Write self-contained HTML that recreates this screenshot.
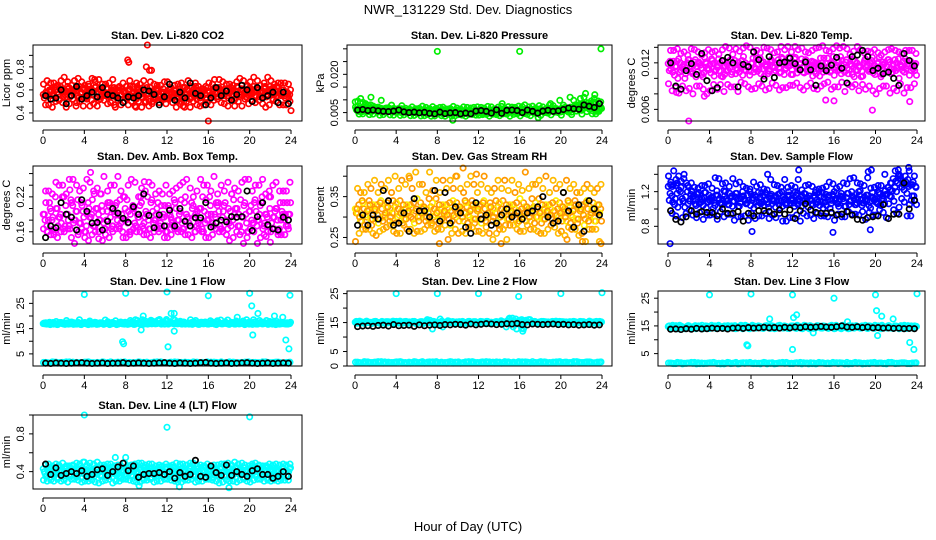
<!DOCTYPE html>
<html><head><meta charset="utf-8"><style>
html,body{margin:0;padding:0;background:#fff;}
svg{display:block;font-family:"Liberation Sans",sans-serif;}
</style></head><body>
<svg id="chart" width="936" height="540" viewBox="0 0 936 540">
<rect width="936" height="540" fill="#fff"/>
<text x="468" y="14" text-anchor="middle" font-size="13">NWR_131229  Std. Dev. Diagnostics</text>
<text x="468" y="531" text-anchor="middle" font-size="13">Hour of Day (UTC)</text>
</svg>
<script>
const xTicks = [0,4,8,12,16,20,24];

const co2A = [0.53,0.57,0.60,0.55,0.62,0.58,0.52,0.60,0.56,0.63,0.54,0.59,0.61,0.55,0.57,0.62,0.53,0.58,0.60,0.56,0.63,0.51,0.59,0.57,0.61,0.55,0.58,0.62,0.54,0.60,0.56,0.59,0.52,0.61,0.57,0.55,0.63,0.58,0.53,0.60,0.56,0.62,0.50,0.57,0.59,0.54,0.61,0.56,0.52,0.58,0.55,0.60,0.53,0.57,0.50,0.56,0.59,0.54,0.61,0.52,0.57,0.55,0.60,0.53,0.58,0.56,0.62,0.54,0.59,0.57,0.61,0.55,0.58,0.60,0.53,0.62,0.56,0.59,0.54,0.61,0.57,0.63,0.55,0.60,0.58,0.62,0.54,0.59,0.61,0.56,0.63,0.57,0.60,0.55,0.58,0.56];
const co2B = [0.47,0.66,0.50,0.68,0.45,0.64,0.49,0.67,0.52,0.70,0.46,0.65,0.48,0.69,0.51,0.66,0.47,0.63,0.50,0.68,0.46,0.65,0.49,0.67,0.53,0.64,0.48,0.62,0.45,0.66,0.50,0.63,0.47,0.61,0.49,0.65,0.52,0.67,0.46,0.64,0.50,0.68,0.48,0.71,0.51,0.66,0.47,0.65];
const co2K = [0.55,0.52,0.53,0.60,0.48,0.55,0.63,0.52,0.55,0.58,0.54,0.62,0.56,0.55,0.53,0.49,0.54,0.53,0.55,0.60,0.59,0.56,0.47,0.54,0.65,0.51,0.58,0.53,0.66,0.57,0.55,0.47,0.53,0.62,0.55,0.59,0.51,0.56,0.64,0.60,0.50,0.62,0.53,0.55,0.58,0.49,0.58,0.48];
const co2OutX = [8.2,8.3,10.1,10.0,10.3,10.5,16.6,16.0,24.0,5.0,22.3,7.0,9.0,13.2,3.2,13.7,15.2];
const co2OutY = [0.86,0.84,0.99,0.80,0.77,0.77,0.69,0.33,0.42,0.69,0.62,0.45,0.45,0.61,0.46,0.45,0.46];

const presA = [0.0062,0.0055,0.0066,0.0058,0.0063,0.0054,0.0067,0.0059,0.0061,0.0056,0.0064,0.0052,0.0060,0.0057,0.0065,0.0053,0.0059,0.0062,0.0055,0.0058,0.0051,0.0060,0.0056,0.0054,0.0058,0.0050,0.0057,0.0053,0.0055,0.0049,0.0056,0.0052,0.0048,0.0055,0.0050,0.0053,0.0047,0.0054,0.0049,0.0052,0.0046,0.0053,0.0050,0.0048,0.0055,0.0047,0.0052,0.0049,0.0054,0.0051,0.0057,0.0053,0.0058,0.0050,0.0056,0.0060,0.0054,0.0058,0.0061,0.0055,0.0059,0.0062,0.0056,0.0060,0.0063,0.0055,0.0058,0.0061,0.0054,0.0059,0.0057,0.0062,0.0056,0.0060,0.0064,0.0058,0.0061,0.0065,0.0059,0.0063,0.0066,0.0060,0.0064,0.0068,0.0062,0.0067,0.0071,0.0069,0.0075,0.0080,0.0078,0.0085,0.0090,0.0088,0.0095,0.0092];
const presB = [0.0072,0.0045,0.0070,0.0044,0.0068,0.0042,0.0069,0.0040,0.0066,0.0041,0.0064,0.0039,0.0067,0.0038,0.0065,0.0037,0.0070,0.0036,0.0066,0.0038,0.0064,0.0036,0.0068,0.0040,0.0070,0.0043,0.0072,0.0042,0.0074,0.0044,0.0071,0.0045,0.0073,0.0043,0.0075,0.0046,0.0072,0.0048,0.0077,0.0050,0.0079,0.0052,0.0098,0.0070,0.0110,0.0080,0.0105,0.0072];
const presK = [0.0060,0.0062,0.0058,0.0060,0.0057,0.0055,0.0054,0.0056,0.0060,0.0053,0.0050,0.0052,0.0049,0.0051,0.0047,0.0045,0.0052,0.0046,0.0049,0.0050,0.0045,0.0048,0.0045,0.0056,0.0058,0.0055,0.0048,0.0061,0.0047,0.0059,0.0060,0.0058,0.0050,0.0060,0.0055,0.0048,0.0056,0.0059,0.0055,0.0057,0.0062,0.0068,0.0065,0.0063,0.0080,0.0075,0.0070,0.0085];
const presOutX = [8.0,16.0,23.9,22.4,14.3,16.5,19.0,23.3,9.5,17.8];
const presOutY = [0.029,0.029,0.030,0.0125,0.0085,0.008,0.0085,0.012,0.002,0.003];

const tempA = [0.0110,0.0118,0.0104,0.0122,0.0108,0.0115,0.0100,0.0120,0.0112,0.0106,0.0124,0.0109,0.0117,0.0102,0.0121,0.0113,0.0107,0.0119,0.0111,0.0125,0.0103,0.0116,0.0110,0.0122,0.0105,0.0118,0.0113,0.0108,0.0123,0.0111,0.0117,0.0104,0.0120,0.0114,0.0109,0.0126,0.0112,0.0118,0.0106,0.0121,0.0115,0.0110,0.0124,0.0108,0.0119,0.0113,0.0127,0.0105,0.0120,0.0116,0.0111,0.0125,0.0107,0.0118,0.0114,0.0122,0.0109,0.0117,0.0103,0.0120,0.0112,0.0126,0.0108,0.0119,0.0115,0.0110,0.0128,0.0113,0.0121,0.0106,0.0118,0.0124,0.0111,0.0116,0.0102,0.0120,0.0114,0.0109,0.0123,0.0117,0.0112,0.0127,0.0105,0.0119,0.0115,0.0121,0.0108,0.0124,0.0113,0.0118,0.0110,0.0125,0.0116,0.0122,0.0112,0.0119];
const tempB = [0.0136,0.0088,0.0132,0.0084,0.0138,0.0090,0.0130,0.0080,0.0134,0.0086,0.0137,0.0092,0.0131,0.0083,0.0139,0.0089,0.0135,0.0093,0.0140,0.0087,0.0133,0.0085,0.0137,0.0091,0.0141,0.0088,0.0134,0.0094,0.0139,0.0090,0.0136,0.0086,0.0142,0.0095,0.0138,0.0089,0.0141,0.0092,0.0135,0.0084,0.0133,0.0090,0.0137,0.0087,0.0134,0.0081,0.0136,0.0093];
const tempK = [0.0120,0.0090,0.0086,0.0110,0.0119,0.0105,0.0132,0.0097,0.0084,0.0088,0.0123,0.0127,0.0120,0.0089,0.0118,0.0115,0.0134,0.0124,0.0099,0.0128,0.0101,0.0120,0.0121,0.0126,0.0119,0.0111,0.0121,0.0111,0.0091,0.0116,0.0110,0.0117,0.0127,0.0113,0.0094,0.0128,0.0130,0.0136,0.0128,0.0110,0.0113,0.0106,0.0108,0.0100,0.0091,0.0132,0.0123,0.0116];
const tempOutX = [2.0,19.7,15.2,16.0,23.3,3.5,0.8];
const tempOutY = [0.0045,0.0059,0.0072,0.0071,0.0070,0.0077,0.0082];

const ambA = [0.19,0.17,0.21,0.18,0.16,0.20,0.185,0.22,0.17,0.19,0.165,0.205,0.18,0.215,0.175,0.195,0.16,0.21,0.185,0.17,0.20,0.19,0.225,0.175,0.18,0.205,0.165,0.195,0.21,0.17,0.19,0.18,0.215,0.16,0.20,0.175,0.19,0.205,0.17,0.185,0.22,0.165,0.195,0.18,0.21,0.175,0.19,0.16,0.205,0.185,0.17,0.20,0.18,0.215,0.165,0.19,0.175,0.21,0.185,0.17,0.20,0.16,0.195,0.18,0.22,0.175,0.19,0.205,0.17,0.185,0.21,0.165,0.195,0.18,0.20,0.17,0.215,0.185,0.19,0.16,0.205,0.175,0.195,0.18,0.21,0.17,0.19,0.22,0.175,0.185,0.20,0.165,0.195,0.18,0.21,0.19];
const ambB = [0.23,0.155,0.245,0.16,0.225,0.15,0.24,0.165,0.25,0.155,0.235,0.145,0.23,0.16,0.255,0.15,0.24,0.165,0.22,0.155,0.245,0.16,0.23,0.15,0.225,0.165,0.24,0.155,0.235,0.16,0.25,0.15,0.23,0.165,0.24,0.155,0.225,0.16,0.245,0.15,0.23,0.14,0.25,0.16,0.24,0.155,0.23,0.165];
const ambK = [0.15,0.17,0.167,0.21,0.19,0.185,0.163,0.215,0.195,0.175,0.176,0.163,0.178,0.20,0.192,0.183,0.176,0.203,0.19,0.225,0.188,0.167,0.189,0.17,0.197,0.17,0.20,0.178,0.17,0.184,0.184,0.21,0.168,0.175,0.18,0.177,0.186,0.185,0.186,0.23,0.162,0.186,0.21,0.172,0.165,0.163,0.185,0.18];
const ambOutX = [4.6,9.8,5.4,22.0,21.6,2.6];
const ambOutY = [0.262,0.246,0.148,0.142,0.152,0.232];

const rhA = [0.31,0.33,0.29,0.32,0.30,0.34,0.28,0.315,0.33,0.295,0.32,0.305,0.335,0.29,0.31,0.325,0.30,0.34,0.285,0.32,0.31,0.33,0.295,0.315,0.30,0.335,0.32,0.29,0.31,0.325,0.30,0.345,0.285,0.32,0.31,0.33,0.295,0.315,0.305,0.335,0.29,0.32,0.31,0.325,0.30,0.34,0.285,0.315,0.33,0.295,0.32,0.305,0.335,0.29,0.31,0.325,0.30,0.34,0.28,0.32,0.31,0.33,0.295,0.315,0.305,0.335,0.29,0.32,0.31,0.325,0.30,0.345,0.285,0.32,0.31,0.33,0.295,0.315,0.305,0.335,0.29,0.32,0.31,0.325,0.30,0.34,0.285,0.315,0.33,0.295,0.32,0.305,0.335,0.29,0.31,0.32];
const rhB = [0.37,0.27,0.38,0.26,0.36,0.27,0.39,0.265,0.37,0.28,0.40,0.26,0.38,0.27,0.41,0.265,0.36,0.28,0.39,0.27,0.37,0.26,0.40,0.265,0.38,0.275,0.36,0.26,0.37,0.245,0.39,0.27,0.365,0.28,0.38,0.265,0.37,0.27,0.39,0.26,0.36,0.275,0.38,0.255,0.37,0.27,0.36,0.24];
const rhK = [0.28,0.305,0.28,0.305,0.295,0.365,0.34,0.28,0.285,0.31,0.265,0.345,0.315,0.315,0.30,0.365,0.29,0.36,0.285,0.325,0.31,0.275,0.26,0.335,0.295,0.305,0.28,0.285,0.305,0.32,0.30,0.31,0.295,0.31,0.315,0.325,0.35,0.30,0.285,0.29,0.36,0.315,0.275,0.33,0.265,0.34,0.32,0.305];
const rhOutX = [10.5,8.2,14.2,20.6,22.1,23.9,11.8,9.8,5.3];
const rhOutY = [0.42,0.235,0.235,0.245,0.24,0.235,0.405,0.40,0.395];

const flowA = [1.10,1.15,1.05,1.18,1.08,1.12,1.02,1.20,1.09,1.14,1.06,1.17,1.11,1.04,1.19,1.08,1.13,1.01,1.16,1.10,1.07,1.21,1.12,1.05,1.15,1.09,1.18,1.03,1.14,1.11,1.07,1.20,1.10,1.16,1.04,1.13,1.08,1.19,1.06,1.15,1.11,1.02,1.17,1.09,1.14,1.05,1.20,1.10,1.07,1.16,1.12,1.03,1.18,1.09,1.15,1.06,1.13,1.11,1.04,1.19,1.08,1.14,1.01,1.17,1.10,1.06,1.15,1.12,1.03,1.18,1.09,1.13,1.05,1.20,1.11,1.07,1.16,1.04,1.14,1.10,1.08,1.19,1.12,1.06,1.17,1.15,1.21,1.25,1.30,1.35,1.32,1.38,1.34,1.28,1.31,1.26];
const flowB = [1.28,0.92,1.25,0.95,1.30,0.90,1.27,0.93,1.24,0.88,1.29,0.94,1.35,0.91,1.26,0.87,1.31,0.92,1.23,0.89,1.28,0.95,1.34,0.90,1.25,0.86,1.27,0.93,1.22,0.92,1.26,0.95,1.24,0.91,1.29,0.94,1.30,0.97,1.36,0.93,1.27,0.96,1.25,0.99,1.40,1.22,1.44,1.38];
const flowK = [0.98,0.88,0.85,0.91,0.98,0.94,0.97,0.96,0.96,0.92,1.00,0.95,0.95,0.97,0.86,0.95,0.92,0.98,0.98,0.97,0.94,0.99,0.94,0.99,0.89,0.98,1.06,0.99,0.96,0.95,0.95,0.96,0.93,0.94,0.97,0.93,0.88,0.87,0.90,0.91,0.92,1.05,0.89,0.94,0.94,1.30,1.00,1.10];
const flowOutX = [0.2,8.1,15.9,19.5,12.6,9.6,19.3,19.6,22.2,23.2,0.4,0.8];
const flowOutY = [0.60,0.74,0.73,0.76,1.45,1.40,1.43,1.45,1.45,1.48,1.26,1.27];

const l1High = [17.2,16.8,17.5,16.9,17.1,16.6,17.4,17.0,16.7,17.3,16.9,17.2,16.8,17.5,16.7,17.0,17.3,16.6,17.1,16.9,17.4,16.8,17.2,16.7,17.0,17.3,16.9,17.1,16.6,17.4,17.0,16.8,17.2,16.9,17.5,16.7,18.2,17.0,18.5,17.2,16.8,17.6,17.9,16.9,18.3,17.1,17.4,18.0,16.8,17.5,18.6,17.0,17.3,16.9,17.6,17.1,16.8,17.4,17.0,17.2,16.7,17.5,17.0,16.9,17.3,17.6,16.8,18.1,17.2,16.9,17.7,18.4,17.0,17.3,16.8,17.5,17.1,18.0,16.9,17.4,17.2,18.5,16.8,17.3,17.6,17.0,18.2,16.9,17.4,17.1,17.8,16.8,17.2,16.9,17.3,17.0];
const l1Low = [1.6,1.4,1.7,1.5,1.8,1.3,1.6,1.5,1.7,1.4,1.6,1.8,1.5,1.3,1.7,1.6,1.4,1.5,1.8,1.6,1.3,1.7,1.5,1.4,1.6,1.8,1.5,1.7,1.3,1.6,1.4,1.5,1.7,1.6,1.8,1.4,1.5,1.3,1.6,1.7,1.5,1.4,1.8,1.6,1.5,1.7,1.4,1.6];
const l1K = [1.3,1.2,1.4,1.3,1.2,1.3,1.4,1.5,1.3,1.2,1.3,1.4,1.2,1.3,1.3,1.5,1.2,1.3,1.4,1.3,1.2,1.3,1.4,1.5,1.3,1.2,1.4,1.3,1.2,1.3,1.5,1.6,1.3,1.2,1.3,1.4,1.2,1.3,1.4,1.5,1.3,1.2,1.3,1.4,1.2,1.3,1.4,1.3];
const l1OutX = [4.0,8.0,12.0,16.0,20.0,23.9,20.2,7.7,7.8,12.1,20.3,23.5,23.8,9.7,12.4,12.7,9.5,12.7,22.4,23.2,20.8,18.8];
const l1OutY = [28.5,29.0,29.5,28.0,29.0,28.2,24.0,9.8,9.0,7.8,12.5,10.5,7.0,20.0,21.0,21.0,14.5,14.0,20.0,19.5,21.0,19.5];

const l2High = [15.4,14.9,15.2,14.8,15.5,15.0,14.7,15.3,15.1,14.8,15.4,15.0,14.9,15.2,14.7,15.3,15.0,15.5,14.8,15.1,15.2,14.9,15.4,14.8,15.0,15.3,14.7,15.1,15.2,14.9,15.4,15.0,14.8,15.3,15.1,14.9,15.5,15.0,14.8,15.2,15.3,14.9,15.1,14.7,15.4,15.0,15.2,14.8,15.1,15.3,14.9,15.4,15.0,14.8,15.2,15.1,14.9,15.3,15.0,15.6,14.8,13.5,16.2,15.0,14.6,12.8,15.8,16.0,14.9,15.3,15.1,14.8,15.4,15.0,15.2,14.9,15.3,15.1,14.8,15.4,15.0,15.2,14.9,15.3,15.1,14.8,15.0,15.4,15.2,14.9,15.1,15.3,15.0,14.8,15.2,15.1];
const l2Low = [1.3,1.1,1.4,1.2,1.5,1.0,1.3,1.2,1.4,1.1,1.3,1.5,1.2,1.0,1.4,1.3,1.1,1.2,1.5,1.3,1.0,1.4,1.2,1.1,1.3,1.5,1.2,1.4,1.0,1.3,1.1,1.2,1.4,1.3,1.5,1.1,1.2,1.0,1.3,1.4,1.2,1.1,1.5,1.3,1.2,1.4,1.1,1.3];
const l2K = [13.6,13.8,13.9,13.7,14.0,14.1,13.8,14.3,13.9,14.0,14.1,13.7,14.2,13.9,14.1,14.2,14.0,14.3,14.2,14.4,14.3,14.1,14.5,14.2,14.4,14.6,14.5,14.3,14.4,14.6,14.5,14.7,14.3,14.2,14.5,14.4,14.3,14.4,14.5,14.3,14.4,14.2,14.3,14.1,14.2,14.3,14.1,14.2];
const l2OutX = [4.0,8.0,12.0,15.9,20.0,24.0,15.0,15.3,16.3,16.2,17.0];
const l2OutY = [25.0,25.0,25.0,24.0,25.0,25.3,16.5,16.5,12.0,13.0,16.0];

const l3High = [15.0,14.3,14.8,14.1,15.2,14.5,14.0,14.9,14.6,14.2,15.1,14.4,14.7,14.0,15.0,14.5,14.3,14.9,14.1,15.2,14.6,14.2,14.8,14.4,15.0,14.1,14.7,14.5,15.1,14.3,14.9,14.0,15.2,14.6,14.4,14.8,14.2,15.0,14.5,14.1,14.9,14.3,15.1,14.6,14.2,14.8,14.4,15.0,14.5,14.1,14.9,14.3,15.2,14.6,14.0,14.8,14.4,15.1,14.5,14.2,14.9,14.3,15.0,14.6,14.1,14.8,14.4,15.2,14.5,14.0,14.9,14.3,15.1,14.6,14.2,14.8,14.4,15.0,14.5,14.1,14.9,14.3,15.2,14.6,14.2,14.8,14.4,15.0,14.5,14.1,14.9,14.3,15.1,14.6,14.2,14.8];
const l3Low = [1.6,1.4,1.7,1.5,1.8,1.3,1.6,1.5,1.7,1.4,1.6,1.8,1.5,1.3,1.7,1.6,1.4,1.5,1.8,1.6,1.3,1.7,1.5,1.4,1.6,1.8,1.5,1.7,1.3,1.6,1.4,1.5,1.7,1.6,1.8,1.4,1.5,1.3,1.6,1.7,1.5,1.4,1.8,1.6,1.5,1.7,1.4,1.6];
const l3K = [13.8,13.9,13.7,14.0,13.8,14.1,13.9,14.0,14.2,14.0,14.1,13.9,14.2,14.3,14.1,14.4,14.2,14.3,14.5,14.3,14.4,14.2,14.5,14.3,14.6,14.4,14.7,14.5,14.6,14.8,14.6,14.5,14.7,15.0,14.6,14.5,14.7,14.4,14.6,14.3,14.4,14.2,14.3,14.1,14.2,14.0,14.1,14.0];
const l3OutX = [4.0,8.0,12.0,16.0,20.0,24.0,7.6,7.7,12.0,12.1,12.4,20.1,20.2,20.6,23.3,23.7,9.8,14.0,17.3,21.7];
const l3OutY = [26.2,26.5,26.2,25.0,26.2,26.6,8.2,7.8,6.5,18.0,19.0,20.5,11.5,18.5,9.0,6.5,17.5,12.5,16.5,17.5];

const l4A = [0.40,0.36,0.44,0.38,0.42,0.34,0.41,0.37,0.45,0.39,0.35,0.43,0.40,0.36,0.46,0.38,0.42,0.33,0.41,0.37,0.44,0.39,0.35,0.43,0.40,0.36,0.45,0.38,0.42,0.34,0.41,0.37,0.44,0.39,0.35,0.43,0.40,0.36,0.46,0.38,0.42,0.33,0.41,0.37,0.44,0.39,0.35,0.43,0.40,0.36,0.45,0.38,0.42,0.34,0.41,0.37,0.44,0.39,0.35,0.43,0.40,0.36,0.46,0.38,0.42,0.33,0.41,0.37,0.44,0.39,0.35,0.43,0.40,0.36,0.45,0.38,0.42,0.34,0.41,0.37,0.44,0.39,0.35,0.43,0.40,0.36,0.46,0.38,0.42,0.33,0.41,0.37,0.44,0.39,0.35,0.43];
const l4B = [0.47,0.31,0.48,0.30,0.46,0.32,0.49,0.29,0.47,0.31,0.50,0.30,0.48,0.28,0.47,0.32,0.46,0.30,0.49,0.31,0.48,0.29,0.47,0.32,0.46,0.30,0.48,0.31,0.49,0.29,0.47,0.32,0.46,0.30,0.48,0.31,0.47,0.29,0.49,0.30,0.48,0.32,0.46,0.31,0.47,0.30,0.48,0.31];
const l4K = [0.48,0.37,0.44,0.36,0.38,0.40,0.38,0.41,0.35,0.37,0.42,0.43,0.36,0.40,0.45,0.49,0.41,0.46,0.34,0.37,0.38,0.38,0.39,0.37,0.40,0.33,0.39,0.35,0.37,0.52,0.35,0.34,0.46,0.39,0.36,0.47,0.36,0.40,0.37,0.35,0.41,0.43,0.37,0.37,0.33,0.35,0.40,0.35];
const l4OutX = [4.0,12.0,20.0,8.0,7.0,4.0,18.0,9.3,13.2];
const l4OutY = [1.0,0.87,0.98,0.55,0.55,0.50,0.23,0.25,0.24];

const NS = 'http://www.w3.org/2000/svg';
const svg = document.getElementById('chart');
const cols = [{l:33,r:302,x0:43,x1:291},{l:347,r:612,x0:355,x1:602},{l:658,r:925,x0:668,x1:917}];
const rows = [{t:45,b:121},{t:166,b:244},{t:291,b:366},{t:415,b:489}];

function mk(tag, attrs, parent) {
  const e = document.createElementNS(NS, tag);
  for (const k in attrs) e.setAttribute(k, attrs[k]);
  (parent || svg).appendChild(e);
  return e;
}

function panel(cfg) {
  const c = cols[cfg.col], r = rows[cfg.row];
  const g = mk('g', {});
  
  
  const sx = v => c.x0 + (v / 24) * (c.x1 - c.x0);
  const sy = v => r.b - (v - cfg.ymin) / (cfg.ymax - cfg.ymin) * (r.b - r.t);
  const title = mk('text', {x:(c.l+c.r)/2, y:r.t-6, 'text-anchor':'middle', 'font-size':11, 'font-weight':'bold'}, g);
  title.textContent = cfg.title;
  
  
  const marks = mk('g', {fill:'none', 'stroke-width':1.7}, g);
  
  
  function pts(vals, color, phase) {
    vals.forEach((v, i) => {
      const x = (i + phase) * 24 / vals.length;
      const ci = mk('circle', {cx:sx(x), cy:sy(v), r:2.7, stroke:color}, marks);
      
      
    });
  }
  function xy(xs, ys, color) {
    xs.forEach((x, i) => {
      const ci = mk('circle', {cx:sx(x), cy:sy(ys[i]), r:2.7, stroke:color}, marks);
      
      
    });
  }
  cfg.series.forEach(s => {
    pts(s[0], s[1], 0.5);
    pts(s[0].slice().reverse(), s[2] || s[1], 0.1);
    pts(s[0].slice(3).concat(s[0].slice(0,3)), s[1], 0.8);
  });
  xy(cfg.ox, cfg.oy, cfg.ocolor);
  pts(cfg.black, '#000', 0.5);
  const box = mk('rect', {x:c.l, y:r.t, width:c.r-c.l, height:r.b-r.t, fill:'none', stroke:'#000', 'stroke-width':1}, g);
  
  
  const xa = mk('g', {stroke:'#000', 'stroke-width':1}, g);
  
  
  const ay = r.b + 9;
  mk('line', {x1:sx(0), x2:sx(24), y1:ay, y2:ay}, xa);
  xTicks.forEach(t => {
    mk('line', {x1:sx(t), x2:sx(t), y1:ay, y2:ay+4}, xa);
    const tl = mk('text', {x:sx(t), y:ay+14, 'text-anchor':'middle', 'font-size':11, stroke:'none', fill:'#000'}, xa);
    tl.textContent = t;
    
    
  });
  const ya = mk('g', {stroke:'#000', 'stroke-width':1}, g);
  
  
  cfg.yticks.forEach(t => {
    mk('line', {x1:c.l-4, x2:c.l, y1:sy(t), y2:sy(t)}, ya);
  });
  cfg.ylabels.forEach(t => {
    const yy = sy(parseFloat(t));
    const tl = mk('text', {x:c.l-9, y:yy, transform:`rotate(-90 ${c.l-9} ${yy})`, 'text-anchor':'middle', 'font-size':11, stroke:'none', fill:'#000'}, ya);
    tl.textContent = t;
    
    
  });
  const yt = mk('text', {x:c.l-23, y:(r.t+r.b)/2, transform:`rotate(-90 ${c.l-23} ${(r.t+r.b)/2})`, 'text-anchor':'middle', 'font-size':11}, g);
  yt.textContent = cfg.ytitle;
  
  
}

const RED='#ff0000', GRN='#00ee00', MAG='#ff00ff', BLU='#0000ff', CYN='#00ffff';
panel({name:'co2', col:0,row:0,title:'Stan. Dev. Li-820 CO2',ytitle:'Licor ppm',ymin:0.33,ymax:0.99,yticks:[0.4,0.5,0.6,0.7,0.8,0.9],ylabels:['0.4','0.6','0.8'],series:[[co2A,RED],[co2B,RED]],ox:co2OutX,oy:co2OutY,ocolor:RED,black:co2K});
panel({name:'pressure', col:1,row:0,title:'Stan. Dev. Li-820 Pressure',ytitle:'kPa',ymin:0.0017,ymax:0.0315,yticks:[0.005,0.01,0.015,0.02,0.025,0.03],ylabels:['0.005','0.020'],series:[[presA,GRN],[presB,GRN]],ox:presOutX,oy:presOutY,ocolor:GRN,black:presK});
panel({name:'li820-temp', col:2,row:0,title:'Stan. Dev. Li-820 Temp.',ytitle:'degrees C',ymin:0.0045,ymax:0.0143,yticks:[0.006,0.008,0.010,0.012,0.014],ylabels:['0.006','0.012'],series:[[tempA,MAG],[tempB,MAG]],ox:tempOutX,oy:tempOutY,ocolor:MAG,black:tempK});
panel({name:'amb-box-temp', col:0,row:1,title:'Stan. Dev. Amb. Box Temp.',ytitle:'degrees C',ymin:0.139,ymax:0.273,yticks:[0.16,0.18,0.20,0.22,0.24,0.26],ylabels:['0.16','0.22'],series:[[ambA,MAG],[ambB,MAG]],ox:ambOutX,oy:ambOutY,ocolor:MAG,black:ambK});
panel({name:'gas-rh', col:1,row:1,title:'Stan. Dev. Gas Stream RH',ytitle:'percent',ymin:0.234,ymax:0.425,yticks:[0.25,0.30,0.35,0.40],ylabels:['0.25','0.35'],series:[[rhA,'#ff9900','#ffee00'],[rhB,'#ffbb00','#ff9900']],ox:rhOutX,oy:rhOutY,ocolor:'#ff9900',black:rhK});
panel({name:'sample-flow', col:2,row:1,title:'Stan. Dev. Sample Flow',ytitle:'ml/min',ymin:0.596,ymax:1.496,yticks:[0.8,1.0,1.2,1.4],ylabels:['0.8','1.2'],series:[[flowA,BLU],[flowB,BLU]],ox:flowOutX,oy:flowOutY,ocolor:BLU,black:flowK});
panel({name:'line1-flow', col:0,row:2,title:'Stan. Dev. Line 1 Flow',ytitle:'ml/min',ymin:0.2,ymax:29.9,yticks:[5,10,15,20,25],ylabels:['5','15','25'],series:[[l1High,CYN],[l1Low,CYN]],ox:l1OutX,oy:l1OutY,ocolor:CYN,black:l1K});
panel({name:'line2-flow', col:1,row:2,title:'Stan. Dev. Line 2 Flow',ytitle:'ml/min',ymin:0.0,ymax:25.9,yticks:[0,5,10,15,20,25],ylabels:['0','5','15','25'],series:[[l2High,CYN],[l2Low,CYN]],ox:l2OutX,oy:l2OutY,ocolor:CYN,black:l2K});
panel({name:'line3-flow', col:2,row:2,title:'Stan. Dev. Line 3 Flow',ytitle:'ml/min',ymin:0.53,ymax:27.6,yticks:[5,10,15,20,25],ylabels:['5','15','25'],series:[[l3High,CYN],[l3Low,CYN]],ox:l3OutX,oy:l3OutY,ocolor:CYN,black:l3K});
panel({name:'line4-flow', col:0,row:3,title:'Stan. Dev. Line 4 (LT) Flow',ytitle:'ml/min',ymin:0.216,ymax:1.0,yticks:[0.4,0.6,0.8,1.0],ylabels:['0.4','0.8'],series:[[l4A,CYN],[l4B,CYN]],ox:l4OutX,oy:l4OutY,ocolor:CYN,black:l4K});
</script>
</body></html>
